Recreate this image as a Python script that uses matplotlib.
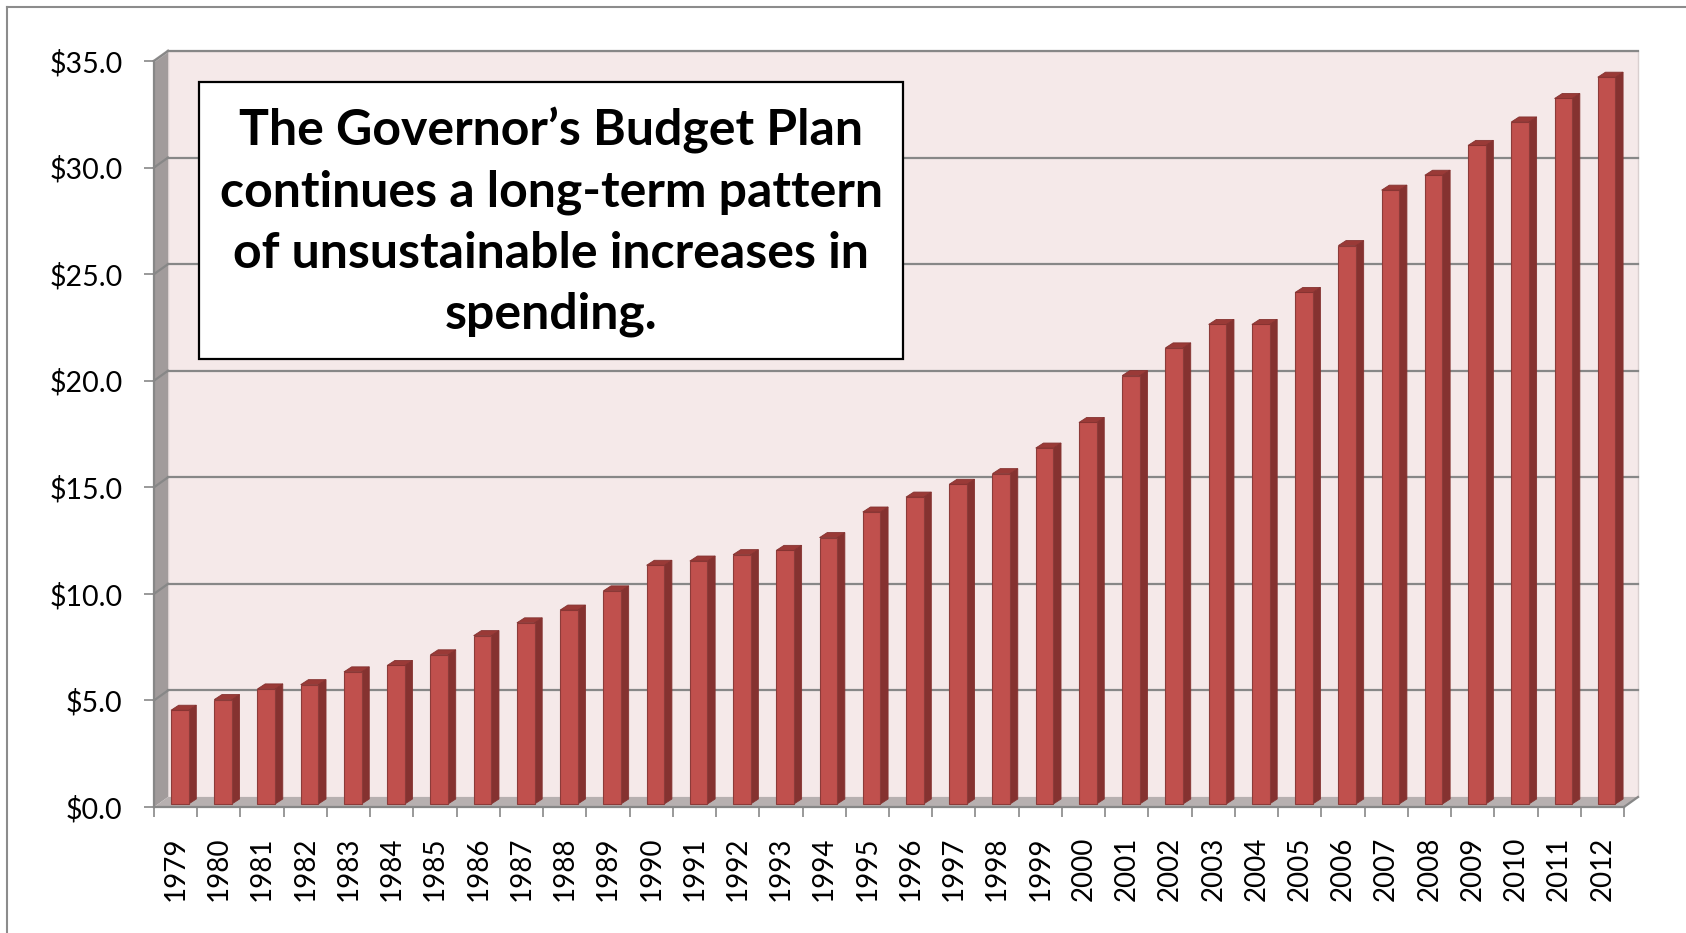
import matplotlib
matplotlib.use("Agg")
import matplotlib.pyplot as plt
from matplotlib.patches import Polygon, Rectangle
from matplotlib.lines import Line2D

# Data

years = [str(y) for y in range(1979, 2013)]
spending = [4.4, 4.9, 5.4, 5.6, 6.2, 6.5, 7.0, 7.9, 8.5, 9.1, 10.0, 11.2,
            11.4, 11.7, 11.9, 12.5, 13.7, 14.4, 15.0, 15.5, 16.7, 17.9,
            20.1, 21.4, 22.5, 22.5, 24.0, 26.2, 28.8, 29.5, 30.9, 32.0,
            33.1, 34.1]
yticks = [0, 5, 10, 15, 20, 25, 30, 35]
ytick_labels = ["$%.1f" % t for t in yticks]
title_lines = ["The Governor\u2019s Budget Plan",
               "continues a long-term pattern",
               "of unsustainable increases in",
               "spending."]

# Colours

FRONT = "#C0504D"
SIDE = "#853230"
CAP = "#9A3A37"
EDGE = "#8C3B39"
WALL = "#F5E9E9"
LEFT_WALL = "#A19B9B"
FLOOR = "#B7B0B0"
GRID = "#878787"

W, H = 1686, 933
fig = plt.figure(figsize=(W / 100, H / 100), dpi=100)
plt.rcParams['font.family'] = ['Lato', 'DejaVu Sans']

# front frame of the plot in pixels
x_left, x_right = 154, 1624
y_zero, y_top = 807, 61
ax = fig.add_axes([x_left / W, 1 - y_zero / H,
                   (x_right - x_left) / W, (y_zero - y_top) / H])
n = len(years)
ax.set_xlim(-0.5, n - 0.5)
ax.set_ylim(0, 35)

px_cat = (x_right - x_left) / n
px_val = (y_zero - y_top) / 35.0
# depth of the 3D box (back wall offset)
DX = 14 / px_cat
DY = 10 / px_val
# bar placement in depth
bdx = 7.7 / px_cat
bdy = 5.0 / px_val
shift_x = 4.2 / px_cat
base = 3.0 / px_val
half_w = 8.8 / px_cat

x0, x1 = -0.5, n - 0.5

# walls and floor
ax.add_patch(Polygon([(x0 + DX, DY), (x1 + DX, DY), (x1 + DX, 35 + DY),
                      (x0 + DX, 35 + DY)], closed=True, fc=WALL,
                     ec="#D9CFCF", lw=1, clip_on=False, zorder=0))
ax.add_patch(Polygon([(x0, 0), (x0 + DX, DY), (x0 + DX, 35 + DY), (x0, 35)],
                     closed=True, fc=LEFT_WALL, ec="none", clip_on=False,
                     zorder=0.5))
ax.add_line(Line2D([x0, x0 + DX], [35, 35 + DY], color="#C9C4C4", lw=2,
                   clip_on=False, zorder=0.6))
ax.add_patch(Polygon([(x0, 0), (x1, 0), (x1 + DX, DY), (x0 + DX, DY)],
                     closed=True, fc=FLOOR, ec="none", clip_on=False,
                     zorder=0.5))

# gridlines on back wall and left wall
for t in yticks[1:]:
    ax.add_line(Line2D([x0 + DX, x1 + DX], [t + DY, t + DY], color=GRID,
                       lw=1.6, clip_on=False, zorder=1))
    ax.add_line(Line2D([x0, x0 + DX], [t, t + DY], color=GRID, lw=1.6,
                       clip_on=False, zorder=1))
ax.add_line(Line2D([x1, x1 + DX], [0, DY], color=GRID, lw=1.6,
                   clip_on=False, zorder=1))

# bars
xs = [i + shift_x for i in range(n)]
ax.bar(xs, spending, width=2 * half_w, bottom=base, color=FRONT,
       edgecolor=EDGE, linewidth=0.8, zorder=3)
for cx, v in zip(xs, spending):
    r = cx + half_w
    l = cx - half_w
    top = base + v
    ax.add_patch(Polygon([(r, base), (r + bdx, base + bdy),
                          (r + bdx, top + bdy), (r, top)], closed=True,
                         fc=SIDE, ec=SIDE, lw=0.6, zorder=2.9))
    ax.add_patch(Polygon([(l, top), (r, top), (r + bdx, top + bdy),
                          (l + bdx, top + bdy)], closed=True, fc=CAP,
                         ec=SIDE, lw=0.6, zorder=3.1))

# axes
for s in ["top", "right"]:
    ax.spines[s].set_visible(False)
for s in ["left", "bottom"]:
    ax.spines[s].set_color(GRID)
    ax.spines[s].set_linewidth(1.6)
    ax.spines[s].set_zorder(2)
ax.set_facecolor("none")

ax.set_yticks(yticks)
ax.set_yticklabels(ytick_labels)
ax.tick_params(axis="y", length=7.2, width=1.2, color=GRID, pad=15.5,
               labelsize=20.5)

ax.set_xticks(range(n))
ax.set_xticklabels(years, rotation=90)
ax.set_xticks([i - 0.5 for i in range(n + 1)], minor=True)
ax.tick_params(axis="x", which="major", length=0, pad=21.5, labelsize=20)
ax.tick_params(axis="x", which="minor", length=7.2, width=1.2, color=GRID)

# text box
bx0, by0, bx1, by1 = 199, 82, 903, 359
fig.add_artist(Rectangle((bx0 / W, 1 - by1 / H), (bx1 - bx0) / W,
                         (by1 - by0) / H, transform=fig.transFigure,
                         fc="white", ec="black", lw=1.6, zorder=5))
fig.text((bx0 + bx1) / 2 / W, 1 - 222 / H, "\n".join(title_lines),
         ha="center", va="center", fontsize=36, fontweight="bold",
         linespacing=1.43, zorder=6)

# outer chart border
fig.add_artist(Line2D([7 / W, 7 / W], [0, 1 - 7 / H], color="#8C8C8C",
                      lw=1.5, transform=fig.transFigure))
fig.add_artist(Line2D([7 / W, 1], [1 - 7 / H, 1 - 7 / H], color="#8C8C8C",
                      lw=1.5, transform=fig.transFigure))

fig.savefig("out.png", dpi=100)
